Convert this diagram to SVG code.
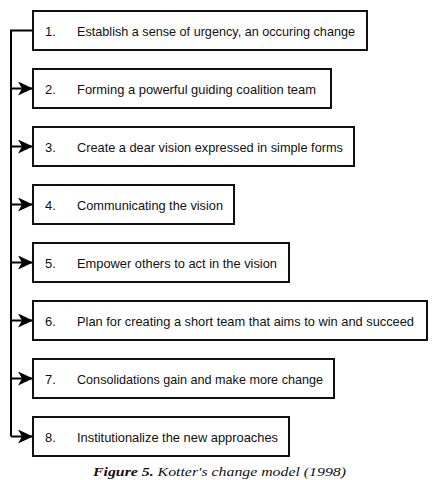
<svg xmlns="http://www.w3.org/2000/svg" width="434" height="480" viewBox="0 0 434 480">
<style>
.box{fill:#fff;stroke:#111;stroke-width:2}
.t{font-family:"Liberation Sans",Arial,sans-serif;font-size:13px;fill:#111}
.conn{stroke:#000;stroke-width:2;fill:none}
.cap{font-family:"Liberation Serif","Times New Roman",serif;font-size:13.5px;font-style:italic;fill:#111}
</style>
<defs>
<marker id="ah" markerWidth="16" markerHeight="14" refX="15" refY="7" orient="auto" markerUnits="userSpaceOnUse">
<path d="M0,0 L15,7 L0,14 L4,7 Z" fill="#000"/>
</marker>
</defs>
<rect width="434" height="480" fill="#fff"/>
<g id="connectors">
<path class="conn" d="M33,30.5 H11 V436.5"/>
<line class="conn" x1="11" y1="88.5" x2="33" y2="88.5" marker-end="url(#ah)"/>
<line class="conn" x1="11" y1="146.5" x2="33" y2="146.5" marker-end="url(#ah)"/>
<line class="conn" x1="11" y1="204.5" x2="33" y2="204.5" marker-end="url(#ah)"/>
<line class="conn" x1="11" y1="262.5" x2="33" y2="262.5" marker-end="url(#ah)"/>
<line class="conn" x1="11" y1="320.5" x2="33" y2="320.5" marker-end="url(#ah)"/>
<line class="conn" x1="11" y1="378.5" x2="33" y2="378.5" marker-end="url(#ah)"/>
<line class="conn" x1="11" y1="436.5" x2="33" y2="436.5" marker-end="url(#ah)"/>
</g>
<g id="n1"><rect class="box" x="33" y="11" width="334" height="39"/><text class="t" x="45" y="36">1.</text><text class="t" x="77" y="36" textLength="278" lengthAdjust="spacingAndGlyphs">Establish a sense of urgency, an occuring change</text></g>
<g id="n2"><rect class="box" x="33" y="69" width="298" height="39"/><text class="t" x="45" y="94">2.</text><text class="t" x="77" y="94" textLength="239" lengthAdjust="spacingAndGlyphs">Forming a powerful guiding coalition team</text></g>
<g id="n3"><rect class="box" x="33" y="127" width="321" height="39"/><text class="t" x="45" y="152">3.</text><text class="t" x="77" y="152" textLength="266" lengthAdjust="spacingAndGlyphs">Create a dear vision expressed in simple forms</text></g>
<g id="n4"><rect class="box" x="33" y="185" width="201" height="39"/><text class="t" x="45" y="210">4.</text><text class="t" x="77" y="210" textLength="146" lengthAdjust="spacingAndGlyphs">Communicating the vision</text></g>
<g id="n5"><rect class="box" x="33" y="243" width="256" height="39"/><text class="t" x="45" y="268">5.</text><text class="t" x="77" y="268" textLength="200" lengthAdjust="spacingAndGlyphs">Empower others to act in the vision</text></g>
<g id="n6"><rect class="box" x="33" y="301" width="394" height="39"/><text class="t" x="45" y="326">6.</text><text class="t" x="77" y="326" textLength="337" lengthAdjust="spacingAndGlyphs">Plan for creating a short team that aims to win and succeed</text></g>
<g id="n7"><rect class="box" x="33" y="359" width="301" height="39"/><text class="t" x="45" y="384">7.</text><text class="t" x="77" y="384" textLength="246" lengthAdjust="spacingAndGlyphs">Consolidations gain and make more change</text></g>
<g id="n8"><rect class="box" x="33" y="417" width="256" height="39"/><text class="t" x="45" y="442">8.</text><text class="t" x="77" y="442" textLength="201" lengthAdjust="spacingAndGlyphs">Institutionalize the new approaches</text></g>
<text class="cap" x="93" y="476" textLength="253" lengthAdjust="spacingAndGlyphs"><tspan font-weight="bold">Figure 5.</tspan> Kotter's change model (1998)</text>
</svg>
